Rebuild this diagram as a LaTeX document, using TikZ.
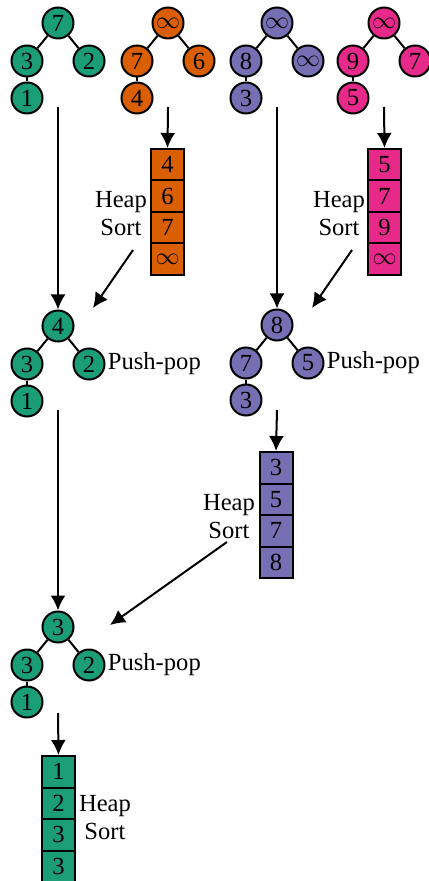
\documentclass[tikz,border=0pt]{standalone}
\usepackage{fontspec}
\setmainfont{Liberation Serif}
\usepackage{tikz}
\usetikzlibrary{arrows.meta,calc}
\definecolor{dkgreen}{RGB}{27,158,119}
\definecolor{dkorange}{RGB}{217,95,2}
\definecolor{dkpurple}{RGB}{117,112,179}
\definecolor{dkpink}{RGB}{231,41,138}
\tikzset{
	hnode/.style={circle,draw,line width=1pt,minimum size=15.5pt,inner sep=0pt},
	hcell/.style={rectangle,draw,line width=1pt,minimum width=16.5pt,minimum height=15.75pt,inner sep=0pt},
	hedge/.style={line width=1pt},
	harrow/.style={line width=1pt,-{Latex[length=7.5pt,width=7.5pt]}},
	hlabel/.style={align=center,inner sep=0pt}
}
\def\heaptree#1#2(#3,#4)#5#6#7#8{%
	\node[hnode,fill=#2] (#1r) at (#3,#4) {#5};
	\node[hnode,fill=#2] (#1a) at (#3-31,#4+38) {#6};
	\node[hnode,fill=#2] (#1b) at (#3+31,#4+38) {#7};
	\node[hnode,fill=#2] (#1c) at (#3-31,#4+75) {#8};
	\draw[hedge] (#1r) -- (#1a);
	\draw[hedge] (#1r) -- (#1b);
	\draw[hedge] (#1a) -- (#1c);
}
\def\heaparray#1#2(#3,#4)#5#6#7#8{%
	\node[hcell,fill=#2] (#11) at (#3,#4+15.75) {#5};
	\node[hcell,fill=#2] (#12) at (#3,#4+47.25) {#6};
	\node[hcell,fill=#2] (#13) at (#3,#4+78.75) {#7};
	\node[hcell,fill=#2] (#14) at (#3,#4+110.25) {#8};
}
\begin{document}
\begin{tikzpicture}[x=0.5pt,y=-0.5pt,font=\fontsize{12.3}{14}\selectfont]
			%%%%% START %%%%%
			\useasboundingbox (0,0) rectangle (428,881);
			
			\heaptree{greenA}{dkgreen}(58,23){7}{3}{2}{1}
			\heaptree{orange}{dkorange}(168,23){$\infty$}{7}{6}{4}
			\heaptree{purpleA}{dkpurple}(277,23){$\infty$}{8}{$\infty$}{3}
			\heaptree{pink}{dkpink}(384,23){$\infty$}{9}{7}{5}
			
			\heaparray{arrOrange}{dkorange}(167.5,149){4}{6}{7}{$\infty$}
			\heaparray{arrPink}{dkpink}(384.5,149){5}{7}{9}{$\infty$}
			\node[hlabel] (sortOrange) at (121,214) {Heap\\Sort};
			\node[hlabel] (sortPink) at (339,214) {Heap\\Sort};
			
			\heaptree{greenB}{dkgreen}(58,326){4}{3}{2}{1}
			\heaptree{purpleB}{dkpurple}(277,325){8}{7}{5}{3}
			\node[anchor=west,inner sep=1pt] (popGreenB) at (greenBb.east) {Push-pop};
			\node[anchor=west,inner sep=1pt] (popPurpleB) at (purpleBb.east) {Push-pop};
			
			\heaparray{arrPurple}{dkpurple}(276,452){3}{5}{7}{8}
			\node[hlabel] (sortPurple) at (229,517) {Heap\\Sort};
			
			\heaptree{greenC}{dkgreen}(58,627){3}{3}{2}{1}
			\node[anchor=west,inner sep=1pt] (popGreenC) at (greenCb.east) {Push-pop};
			
			\heaparray{arrGreen}{dkgreen}(58.5,756){1}{2}{3}{3}
			\node[hlabel] (sortGreen) at (105,818) {Heap\\Sort};
			
			% arrows
			\coordinate (greenAs) at (58,107);
			\coordinate (orangeS) at (168,107);
			\coordinate (purpleAs) at (277,107);
			\coordinate (pinkS) at (384,107);
			\coordinate (greenBs) at (58,410);
			\coordinate (purpleBs) at (277,410);
			\coordinate (greenCs) at (58,713);
			
			\draw[harrow] (greenAs) -- (greenBr.north);
			\draw[harrow] (orangeS) -- (arrOrange1.north);
			\draw[harrow] (purpleAs) -- (purpleBr.north);
			\draw[harrow] (pinkS) -- (arrPink1.north);
			\draw[harrow] (greenBs) -- (greenCr.north);
			\draw[harrow] (purpleBs) -- (arrPurple1.north);
			\draw[harrow] (greenCs) -- (arrGreen1.north);
			
			\coordinate (orangeD) at (133,250);
			\coordinate (orangeE) at (93,308);
			\coordinate (pinkD) at (352,250);
			\coordinate (pinkE) at (312,308);
			\coordinate (purpleD) at (227,542);
			\coordinate (purpleE) at (110,625);
			\draw[harrow] (orangeD) -- (orangeE);
			\draw[harrow] (pinkD) -- (pinkE);
			\draw[harrow] (purpleD) -- (purpleE);
			
			%%%%% END %%%%%
\end{tikzpicture}
\end{document}
